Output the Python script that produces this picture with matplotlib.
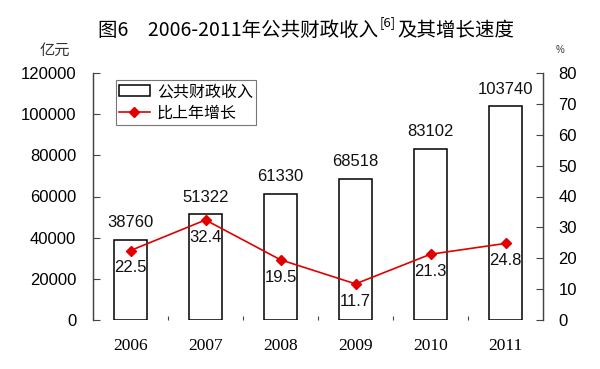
import matplotlib
matplotlib.use("Agg")
import matplotlib.pyplot as plt
import numpy as np
from matplotlib.patches import Patch
from matplotlib.lines import Line2D

years = ["2006", "2007", "2008", "2009", "2010", "2011"]
revenue = [38760, 51322, 61330, 68518, 83102, 103740]
growth = [22.5, 32.4, 19.5, 11.7, 21.3, 24.8]
left_ticks = [0, 20000, 40000, 60000, 80000, 100000, 120000]
right_ticks = [0, 10, 20, 30, 40, 50, 60, 70, 80]

CJK = ["Noto Sans CJK SC", "DejaVu Sans"]
SANS = ["Liberation Sans", "DejaVu Sans"]
SERIF = ["Liberation Serif", "DejaVu Serif"]

fig = plt.figure(figsize=(6, 3.69), dpi=100)
ax = fig.add_axes([93/600, 1-320/369, 450/600, (320-73)/369])
ax2 = ax.twinx()

x = np.arange(len(years))
ax.bar(x, revenue, width=0.45, facecolor="white", edgecolor="black", linewidth=1.1, zorder=2)
for xi, v in zip(x, revenue):
    ax.annotate(str(v), (xi, v), xytext=(0, 7), textcoords="offset points",
                ha="center", va="bottom", fontsize=12, family=SANS, color="#111111")

ax.set_xlim(-0.5, 5.5)
ax.set_ylim(0, 120000)
ax.set_yticks(left_ticks)
ax.set_yticklabels([str(t) for t in left_ticks], family=SANS, fontsize=12)
ax.set_xticks(x)
ax.set_xticklabels(years, family=SERIF, fontsize=12.5)
ax.set_xticks(np.arange(0.5, 5.5, 1), minor=True)
ax.tick_params(axis="x", which="major", length=0, pad=13)
ax.tick_params(axis="x", which="minor", direction="in", length=3, width=0.8, color="#444444")
ax.tick_params(axis="y", direction="in", length=5, width=0.8, pad=12, color="#444444")

ax2.plot(x, growth, color="#e00000", lw=1.2, marker="D", markersize=5,
         markerfacecolor="#e00000", markeredgecolor="#e00000", zorder=3)
for xi, v in zip(x, growth):
    ax2.annotate(f"{v}", (xi, v), xytext=(0, -7), textcoords="offset points",
                 ha="center", va="top", fontsize=12, family=SANS, color="#111111")
ax2.set_ylim(0, 80)
ax2.set_yticks(right_ticks)
ax2.set_yticklabels([str(t) for t in right_ticks], family=SANS, fontsize=12)
ax2.tick_params(axis="y", direction="in", length=5, width=0.8, pad=11, color="#444444")

for a in (ax, ax2):
    a.spines["top"].set_visible(False)
    a.spines["bottom"].set_visible(False)
    a.spines["left"].set_color("#444444")
    a.spines["right"].set_color("#444444")
    a.spines["left"].set_linewidth(0.9)
    a.spines["right"].set_linewidth(0.9)
ax.set_zorder(1)
ax2.set_zorder(2)
ax2.patch.set_visible(False)

handles = [Patch(facecolor="white", edgecolor="black", linewidth=1.1),
           Line2D([0], [0], color="#e00000", lw=1.2, marker="D", markersize=5)]
leg = fig.legend(handles, ["公共财政收入", "比上年增长"], loc="upper left",
                 bbox_to_anchor=(116/600, 1-80/369), prop={"family": CJK, "size": 11.5},
                 frameon=True, fancybox=False, edgecolor="#555555",
                 handlelength=1.9, handleheight=0.7, borderpad=0.2, labelspacing=0.3,
                 handletextpad=0.45, borderaxespad=0)
leg.get_frame().set_linewidth(0.8)

fig.text(55/600, 1-50/369, "亿元", family=CJK, fontsize=11, color="#333333", ha="center", va="center")
fig.text(560/600, 1-50/369, "%", family=SANS, fontsize=7, color="#333333", ha="center", va="center")

# Title with superscript, built in parts and centered
renderer = fig.canvas.get_renderer()
ty = 1 - 30/369
p1 = fig.text(0, ty, "图6　2006-2011年公共财政收入", family=CJK, fontsize=14, weight="medium", va="center", ha="left")
p2 = fig.text(0, ty + 0.02, "[6]", family=CJK, fontsize=9.5, va="center", ha="left")
p3 = fig.text(0, ty, "及其增长速度", family=CJK, fontsize=14, weight="medium", va="center", ha="left")
w1 = p1.get_window_extent(renderer).width / 600
w2 = p2.get_window_extent(renderer).width / 600
w3 = p3.get_window_extent(renderer).width / 600
total = w1 + w2 + w3 + 0.006
start = 306/600 - total/2
p1.set_x(start)
p2.set_x(start + w1 + 0.003)
p3.set_x(start + w1 + w2 + 0.006)

fig.savefig("out.png", dpi=100)
